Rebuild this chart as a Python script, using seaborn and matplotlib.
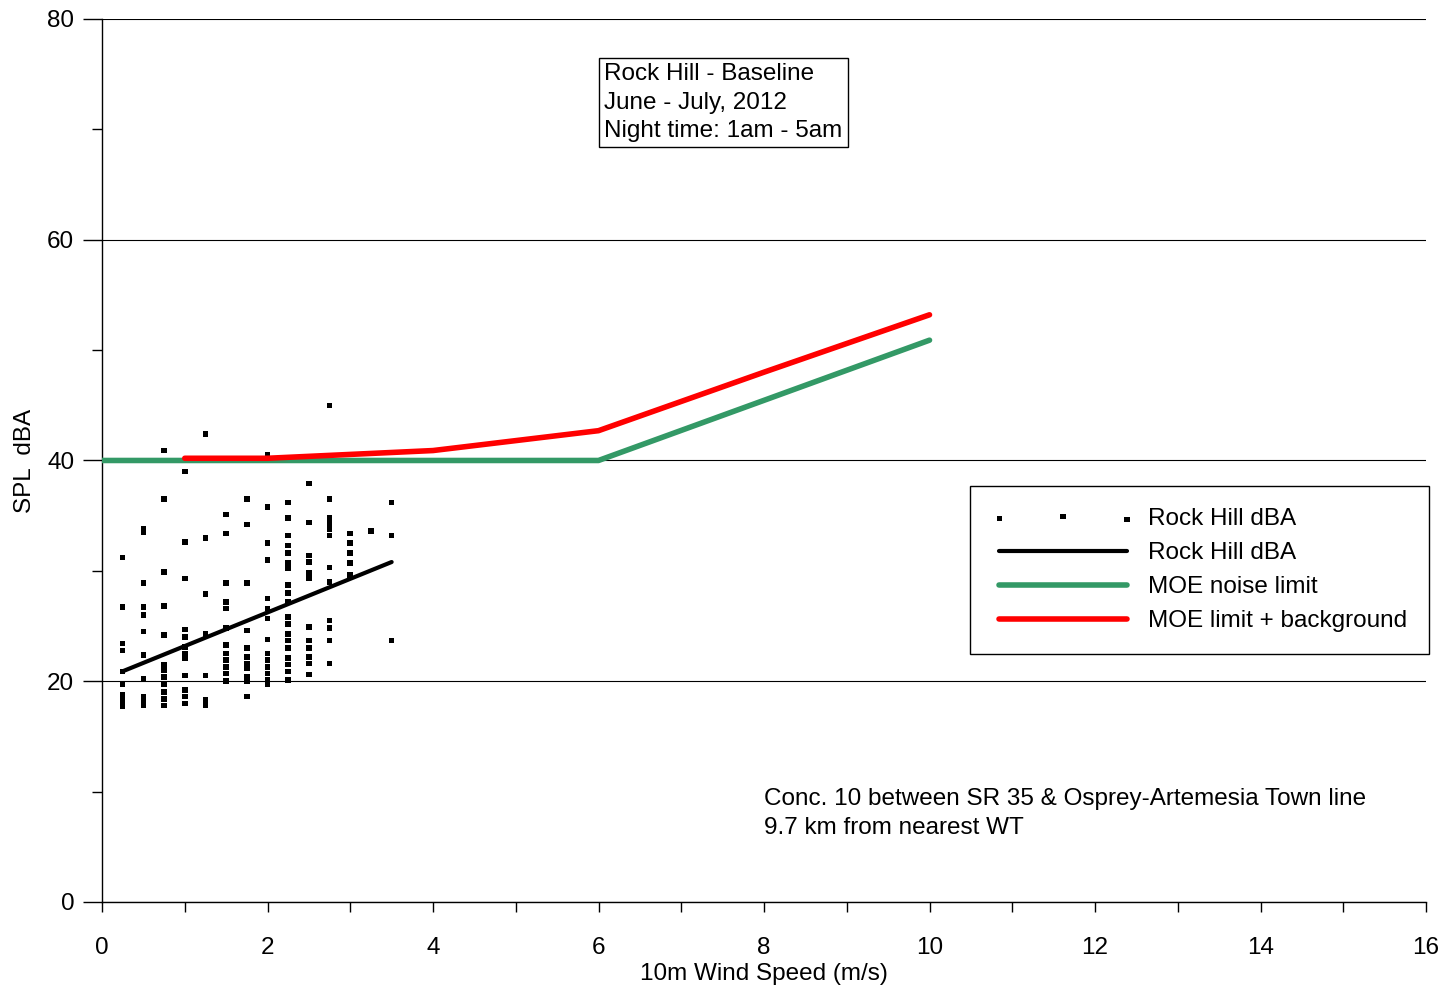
import numpy as np
import pandas as pd
import matplotlib
matplotlib.use("Agg")
import matplotlib.pyplot as plt
import seaborn as sns
from matplotlib.ticker import MultipleLocator

# measured points, grouped by wind speed (m/s) -> SPL dBA
spl_by_wind = {
    0.25: [31.2, 26.7, 23.4, 22.8, 20.9, 19.7, 18.8, 18.4, 18.0, 17.7],
    0.5: [33.8, 33.5, 28.9, 26.7, 26.0, 24.5, 22.4, 20.2, 18.6, 18.2, 17.8],
    0.75: [40.9, 36.5, 29.9, 26.8, 24.2, 21.5, 21.0, 20.4, 19.7, 19.0, 18.4, 17.8],
    1.0: [39.0, 32.6, 29.3, 24.7, 24.0, 23.1, 22.5, 22.1, 20.5, 19.2, 18.6, 18.0],
    1.25: [42.4, 33.0, 27.9, 24.3, 20.5, 18.3, 17.8],
    1.5: [35.1, 33.4, 28.9, 27.2, 26.6, 24.8, 23.3, 22.5, 21.9, 21.3, 20.7, 20.0],
    1.75: [36.5, 34.2, 28.9, 24.6, 23.0, 22.2, 21.6, 21.2, 20.4, 20.0, 18.6],
    2.0: [40.5, 35.8, 32.5, 31.0, 27.5, 26.6, 25.7, 23.8, 22.5, 21.9, 21.3, 20.7, 20.1, 19.7],
    2.25: [36.2, 34.8, 33.2, 32.3, 31.6, 30.7, 30.2, 28.7, 28.0, 27.2, 25.8, 25.2,
           24.3, 23.7, 23.0, 22.1, 21.5, 20.9, 20.1],
    2.5: [37.9, 34.4, 31.4, 30.8, 29.8, 29.3, 24.9, 23.7, 23.0, 22.2, 21.6, 20.6],
    2.75: [45.0, 36.5, 34.8, 34.3, 33.8, 33.2, 30.3, 29.0, 25.5, 24.8, 23.7, 21.6],
    3.0: [33.4, 32.5, 31.6, 30.7, 29.6],
    3.25: [33.6],
    3.5: [36.2, 33.2, 23.7],
}

trend_wind = [0.25, 3.5]
trend_spl = [20.9, 30.8]

moe_wind = [0, 6, 10]
moe_spl = [40, 40, 50.9]

bg_wind = [1, 2, 4, 6, 8, 10]
bg_spl = [40.2, 40.2, 40.9, 42.7, 48.0, 53.2]

pts = pd.DataFrame(
    [(w, v) for w, vals in spl_by_wind.items() for v in vals],
    columns=["wind", "spl"],
)

sns.set_style("white")
plt.rcParams["font.family"] = ["Liberation Sans", "DejaVu Sans"]
plt.rcParams["text.color"] = "black"
plt.rcParams["axes.labelcolor"] = "black"
plt.rcParams["xtick.color"] = "black"
plt.rcParams["ytick.color"] = "black"
FS = 17.5

fig = plt.figure(figsize=(14.47, 9.89), dpi=100)
ax = fig.add_axes([0.0705, 0.088, 0.915, 0.8928])

sns.scatterplot(data=pts, x="wind", y="spl", ax=ax, marker="s", s=16,
                color="black", edgecolor="none", label="Rock Hill dBA", zorder=3)
sns.lineplot(x=trend_wind, y=trend_spl, ax=ax, color="black", lw=3,
             label="Rock Hill dBA", zorder=4)
sns.lineplot(x=moe_wind, y=moe_spl, ax=ax, color="#339966", lw=4,
             label="MOE noise limit", zorder=5)
sns.lineplot(x=bg_wind, y=bg_spl, ax=ax, color="#ff0000", lw=4,
             label="MOE limit + background", zorder=6)

ax.set_xlim(0, 16)
ax.set_ylim(0, 80)
ax.xaxis.set_major_locator(MultipleLocator(2))
ax.xaxis.set_minor_locator(MultipleLocator(1))
ax.yaxis.set_major_locator(MultipleLocator(20))
ax.yaxis.set_minor_locator(MultipleLocator(10))
ax.tick_params(axis="both", which="major", direction="out", width=1,
               labelsize=FS, color="black", labelcolor="black", bottom=True, left=True)
ax.tick_params(axis="both", which="minor", direction="out", length=7, width=1,
               color="black", bottom=True, left=True)
ax.tick_params(axis="x", which="major", length=7, pad=18)
ax.tick_params(axis="y", which="major", length=14, pad=6)
ax.grid(axis="y", which="major", color="black", lw=0.8)
ax.set_axisbelow(True)
for s in ["top", "right"]:
    ax.spines[s].set_visible(False)
for s in ["left", "bottom"]:
    ax.spines[s].set_color("black")
    ax.spines[s].set_linewidth(1)

ax.set_xlabel("10m Wind Speed (m/s)", fontsize=FS, labelpad=3)
ax.set_ylabel("SPL  dBA", fontsize=FS)
ax.yaxis.set_label_coords(-0.05, 0.5)

ax.text(6.07, 76.0, "Rock Hill - Baseline\nJune - July, 2012\nNight time: 1am - 5am",
        fontsize=FS, va="top", ha="left", linespacing=1.38,
        bbox=dict(boxstyle="square,pad=0.22", fc="white", ec="black", lw=1))
ax.text(8.0, 10.3, "Conc. 10 between SR 35 & Osprey-Artemesia Town line\n9.7 km from nearest WT",
        fontsize=FS, va="top", ha="left", linespacing=1.38)

leg = ax.legend(loc="upper right", bbox_to_anchor=(1.002, 0.471), fontsize=FS,
                frameon=True, fancybox=False, edgecolor="black", framealpha=1,
                handlelength=5.85, numpoints=3, scatterpoints=3, borderpad=0.9,
                labelspacing=0.5, handletextpad=0.55, borderaxespad=0)
leg.get_frame().set_linewidth(1)
for t in leg.get_texts():
    t.set_color("black")

fig.savefig("out.png", dpi=100)
